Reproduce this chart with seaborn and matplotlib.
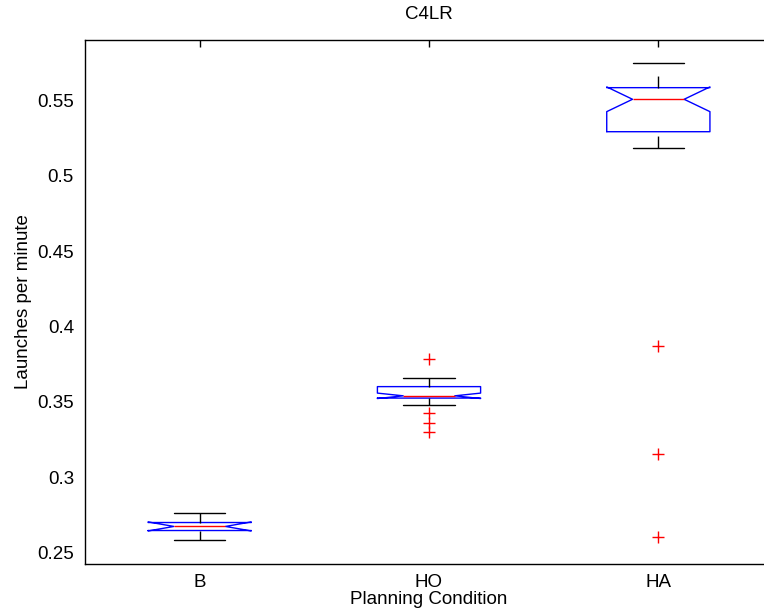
import numpy as np
import matplotlib
matplotlib.use("Agg")
import matplotlib.pyplot as plt
import seaborn as sns
from matplotlib.ticker import FormatStrFormatter

# ---- data ----
categories = ["B", "HO", "HA"]
medians = [0.2674, 0.3540, 0.5506]
q1_vals = [0.2647, 0.3525, 0.5291]
q3_vals = [0.2700, 0.3601, 0.5583]
whisker_lo = [0.2581, 0.3480, 0.5181]
whisker_hi = [0.2762, 0.3661, 0.5745]
notch_lo = [0.2644, 0.3522, 0.5424]
notch_hi = [0.2704, 0.3558, 0.5588]
outliers_B = []
outliers_HO = [0.3783, 0.3425, 0.3363, 0.3303]
outliers_HA = [0.3868, 0.3157, 0.2607]
y_ticks = [0.25, 0.30, 0.35, 0.40, 0.45, 0.50, 0.55]

sns.set_style("white")
plt.rcParams["font.family"] = ["Liberation Sans", "DejaVu Sans"]
plt.rcParams["text.color"] = "black"
plt.rcParams["axes.labelcolor"] = "black"

fig = plt.figure(figsize=(7.64, 6.14), dpi=100)
ax = fig.add_axes([85 / 764, (614 - 564) / 614, (773 - 85) / 764, (564 - 40) / 614])

fliers = [outliers_B, outliers_HO, outliers_HA]
stats = []
for i, c in enumerate(categories):
    stats.append(dict(label=c, med=medians[i], q1=q1_vals[i], q3=q3_vals[i],
                      whislo=whisker_lo[i], whishi=whisker_hi[i],
                      cilo=notch_lo[i], cihi=notch_hi[i],
                      fliers=np.array(fliers[i], dtype=float)))

res = ax.bxp(stats, positions=[1, 2, 3], widths=0.45, capwidths=0.225,
             shownotches=True,
             boxprops=dict(color="#0000ff", linewidth=1.0),
             medianprops=dict(color="#ff0000", linewidth=1.0),
             whiskerprops=dict(color="black", linewidth=1.0, linestyle=(0, (8.6, 9.2))),
             capprops=dict(color="black", linewidth=1.0),
             flierprops=dict(marker="+", markeredgecolor="#ff0000", markersize=8.6,
                             markeredgewidth=1.0, linestyle="none"))
# lower whiskers drawn from the end upward (as in the reference dash phase)
for k, line in enumerate(res["whiskers"]):
    if k % 2 == 0:
        x, y = line.get_data()
        line.set_data(np.asarray(x)[::-1], np.asarray(y)[::-1])

ax.set_xlim(0.5, 3.5)
ax.set_ylim(0.2425, 0.5899)
ax.set_yticks(y_ticks)
ax.yaxis.set_major_formatter(FormatStrFormatter("%g"))
ax.set_xticks([1, 2, 3])
ax.set_xticklabels(categories)

for s in ax.spines.values():
    s.set_visible(True)
    s.set_color("black")
    s.set_linewidth(1.0)

ax.tick_params(direction="in", top=True, right=True, length=5, width=1.0,
               labelsize=13.5, colors="black", pad=8)
ax.tick_params(axis="x", pad=7)

ax.set_title("C4LR", fontsize=13.5, pad=15, color="black")
ax.set_xlabel("Planning Condition", fontsize=13.5, labelpad=0.5, color="black")
ax.set_ylabel("Launches per minute", fontsize=13.5, labelpad=4, color="black")

fig.savefig("out.png", dpi=100)
